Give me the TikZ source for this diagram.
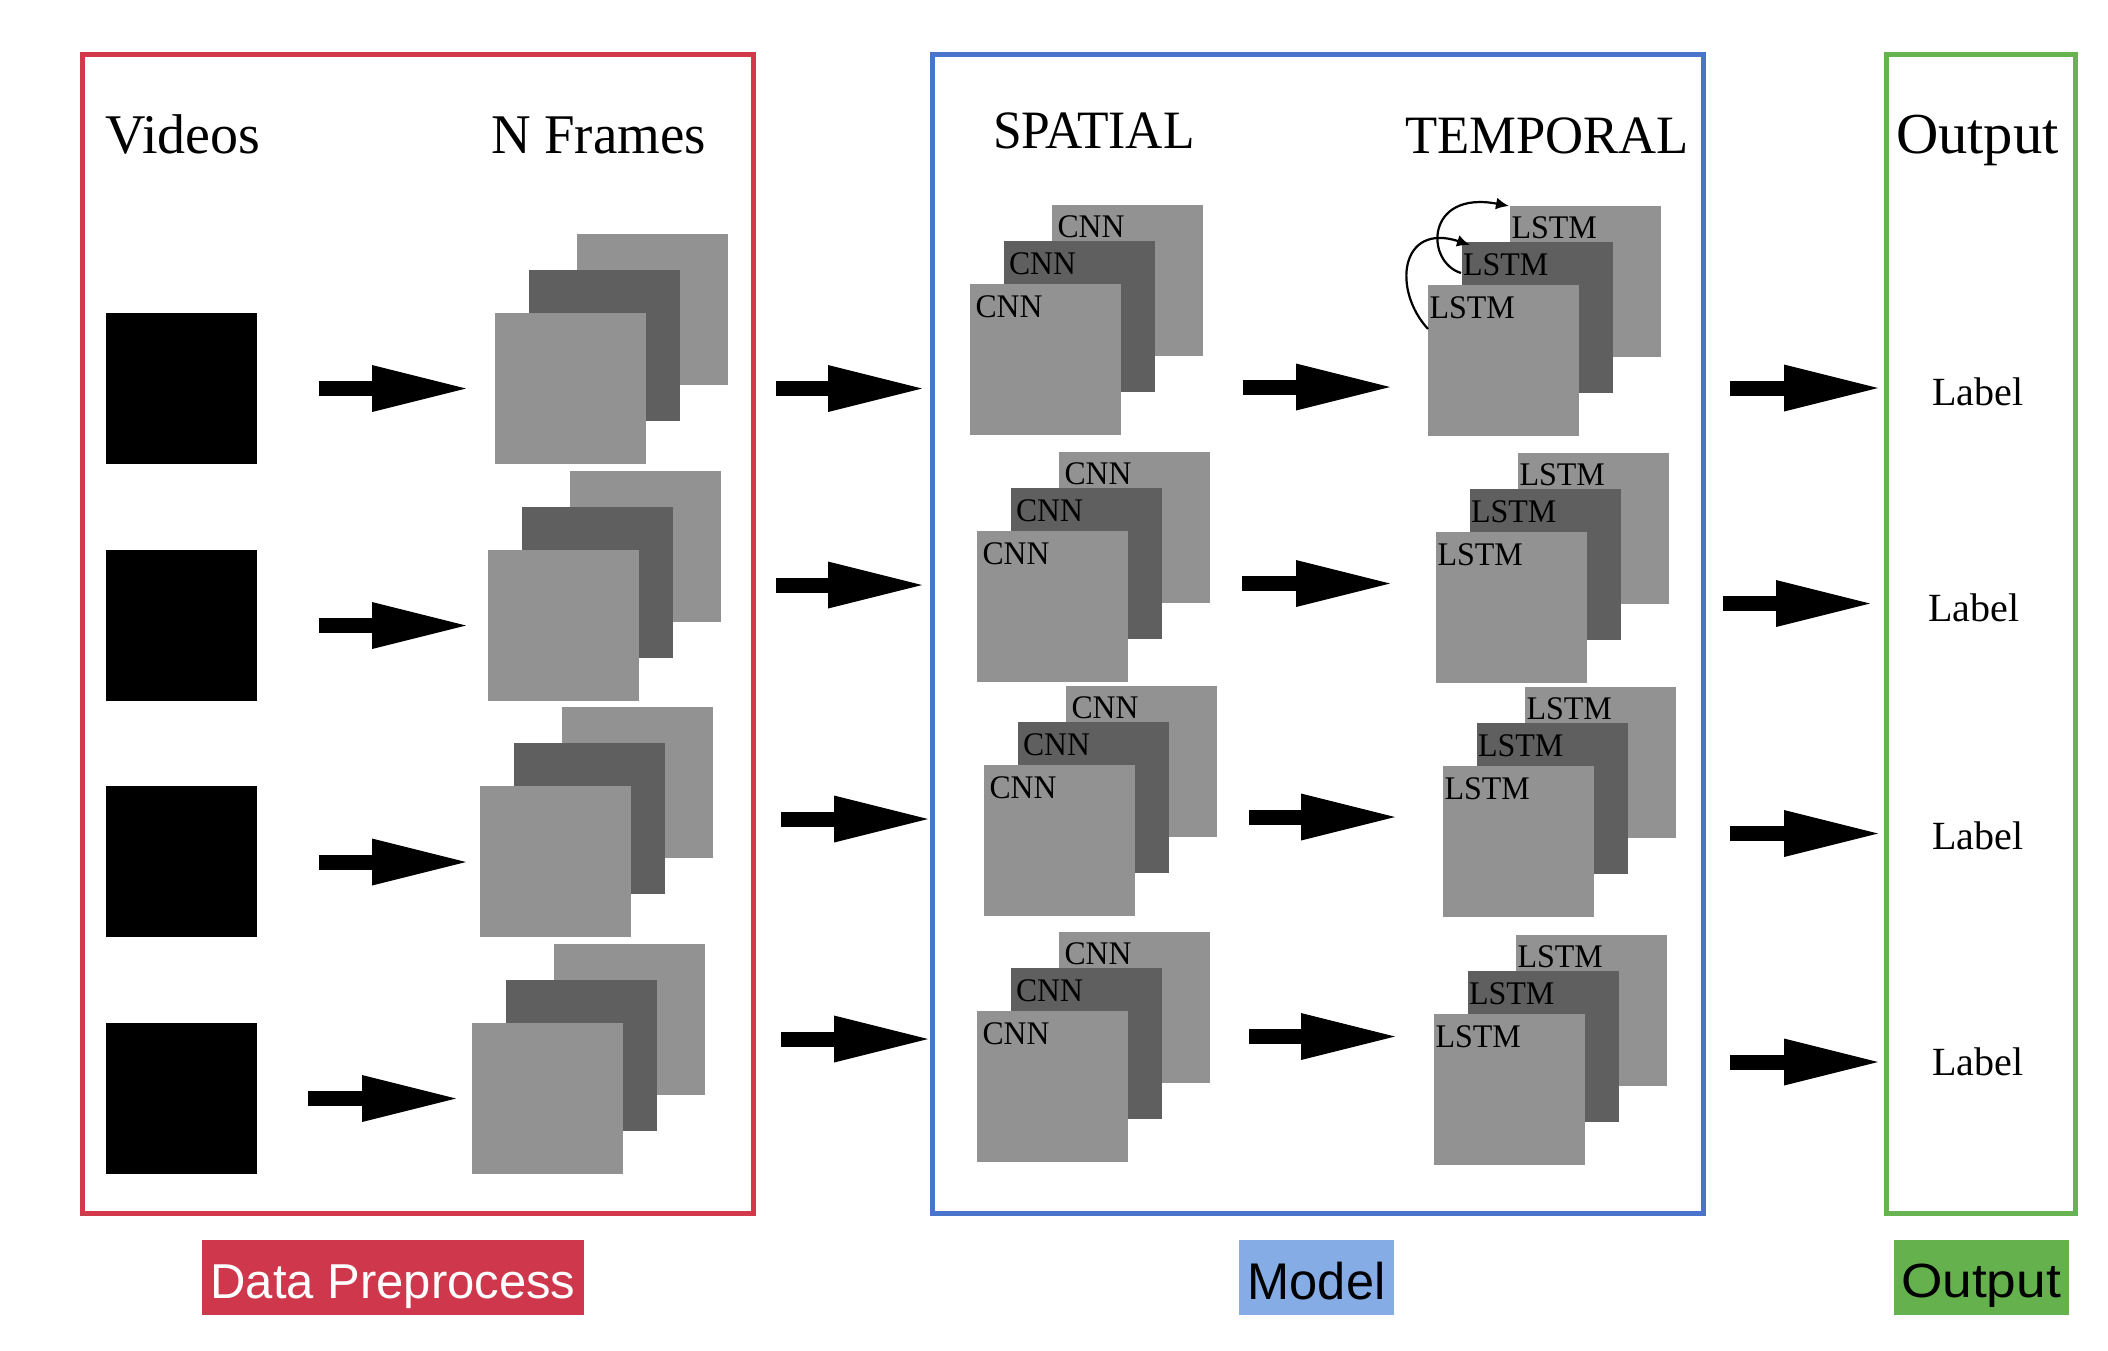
\documentclass[tikz,border=0pt]{standalone}
\usepackage{fontspec}
\setmainfont{Liberation Serif}
\newfontfamily\lsans{Liberation Sans}
\usetikzlibrary{arrows.meta}
\definecolor{cred}{HTML}{D23A4C}
\definecolor{cblue}{HTML}{4A74CC}
\definecolor{cgreen}{HTML}{66B34F}
\definecolor{fred}{HTML}{CF384C}
\definecolor{fblue}{HTML}{86ACE6}
\definecolor{fgreen}{HTML}{64B14D}
\definecolor{gl}{HTML}{929292}
\definecolor{gd}{HTML}{5F5F5F}
\newcommand\sx[2]{\scalebox{#1}[1]{#2}}
\tikzset{
  sq/.style={rectangle, minimum width=75.5pt, minimum height=75.5pt, inner sep=0pt, outer sep=0pt, anchor=north west, draw=none},
  blk/.style={line width=7.5pt, -{Triangle[length=47pt,width=23.5pt,line width=0pt]}},
  loopar/.style={line width=1.1pt, -{Latex[length=6.5pt,width=6pt]}},
  frame/.style={line width=2.5pt, line join=miter},
  lab/.style={inner sep=0pt, outer sep=0pt, anchor=base west},
  hdr/.style={inner sep=0pt, outer sep=0pt, anchor=base west, font=\fontsize{28pt}{30pt}\selectfont},
  small/.style={inner sep=0pt, outer sep=0pt, anchor=base west, font=\fontsize{16.5pt}{18pt}\selectfont},
  tag/.style={rectangle, inner sep=0pt, outer sep=0pt, minimum height=37.5pt},
  tagtxt/.style={inner sep=0pt, outer sep=0pt, anchor=base, font=\lsans\fontsize{24.5pt}{26pt}\selectfont},
  lbl/.style={inner sep=0pt, outer sep=0pt, anchor=base, font=\fontsize{20pt}{22pt}\selectfont},
}
% #1 name, #2 x, #3 y, #4 text, #5 inset, #6 xscale
\newcommand\mystack[6]{%
  \node[sq, fill=gl] (#1b) at ({#2+82},{#3-79}) {};
  \node[small] (#1bt) at ({#2+82+#5},{#3-79+32}) {\sx{#6}{#4}};
  \node[sq, fill=gd] (#1m) at ({#2+33.5},{#3-43}) {};
  \node[small] (#1mt) at ({#2+33.5+#5},{#3-43+33}) {\sx{#6}{#4}};
  \node[sq, fill=gl] (#1f) at (#2,#3) {};
  \node[small] (#1ft) at ({#2+#5},{#3+33}) {\sx{#6}{#4}};
}
\newcommand\myframes[3]{%
  \node[sq, fill=gl] (#1b) at ({#2+82},{#3-79}) {};
  \node[sq, fill=gd] (#1m) at ({#2+33.5},{#3-43}) {};
  \node[sq, fill=gl] (#1f) at (#2,#3) {};
}
\newcommand\myarrow[4]{% name, x start, y, x tip
  \coordinate (#1s) at (#2,#3);
  \coordinate (#1e) at (#4,#3);
  \draw[blk] (#1s) -- (#1e);
}
\begin{document}
\begin{tikzpicture}[x=0.5pt,y=-0.5pt]
\useasboundingbox[fill=white] (0,0) rectangle (2108,1350);

% container frames
\draw[frame, draw=cred] (82,54.5) rectangle (753,1213.5);
\draw[frame, draw=cblue] (932,54.5) rectangle (1703.5,1213.5);
\draw[frame, draw=cgreen] (1886,54.5) rectangle (2075.5,1213.5);

% headers
\node[hdr] (hvid) at (105,153) {\sx{1.0}{Videos}};
\node[hdr] (hfr) at (491,153) {\sx{0.98}{N Frames}};
\node[hdr, font=\fontsize{27pt}{29pt}\selectfont] (hsp) at (993,148.5) {\sx{0.955}{SPATIAL}};
\node[hdr, font=\fontsize{27pt}{29pt}\selectfont] (htp) at (1405,153) {\sx{0.975}{TEMPORAL}};
\node[hdr, font=\fontsize{29pt}{31pt}\selectfont] (hout) at (1896,153) {\sx{1.01}{Output}};

% videos
\node[sq, fill=black] (v1) at (106,313) {};
\node[sq, fill=black] (v2) at (106,550) {};
\node[sq, fill=black] (v3) at (106,786) {};
\node[sq, fill=black] (v4) at (106,1023) {};

% frames
\myframes{fa}{495}{313}
\myframes{fb}{488}{550}
\myframes{fc}{480}{786}
\myframes{fd}{472}{1023}

% CNN stacks
\mystack{ca}{970}{284}{CNN}{5.5}{0.96}
\mystack{cb}{977}{531}{CNN}{5.5}{0.96}
\mystack{cc}{984}{765}{CNN}{5.5}{0.96}
\mystack{cd}{977}{1011}{CNN}{5.5}{0.96}

% LSTM stacks
\mystack{la}{1428}{285}{LSTM}{1.5}{0.97}
\mystack{lb}{1436}{532}{LSTM}{1.5}{0.97}
\mystack{lc}{1443}{766}{LSTM}{1.5}{0.97}
\mystack{ld}{1434}{1014}{LSTM}{1.5}{0.97}

% recurrent loops
\coordinate (r1s) at (1428,329);
\coordinate (r1e) at (1470,245);
\draw[loopar] (r1s) .. controls (1392,290) and (1400,222) .. (r1e);
\coordinate (r2s) at (1461,273);
\coordinate (r2e) at (1509,206);
\draw[loopar] (r2s) .. controls (1425,262) and (1425,190) .. (r2e);

% arrows videos -> frames
\myarrow{a1}{319}{388.5}{466}
\myarrow{a2}{319}{625.5}{466}
\myarrow{a3}{319}{862}{466}
\myarrow{a4}{308}{1098.5}{456}

% arrows preprocess -> model
\myarrow{b1}{776}{388.5}{922}
\myarrow{b2}{776}{585}{922}
\myarrow{b3}{781}{819}{928}
\myarrow{b4}{781}{1039}{928}

% arrows CNN -> LSTM
\myarrow{c1}{1243}{387}{1390}
\myarrow{c2}{1242}{583.5}{1390}
\myarrow{c3}{1249}{817}{1395}
\myarrow{c4}{1249}{1036.5}{1395}

% arrows model -> output
\myarrow{d1}{1730}{388}{1878}
\myarrow{d2}{1723}{603.5}{1870}
\myarrow{d3}{1730}{833.5}{1878}
\myarrow{d4}{1730}{1062}{1878}

% labels
\node[lbl] (l1) at (1978,405) {Label};
\node[lbl] (l2) at (1974,621) {Label};
\node[lbl] (l3) at (1978,849.5) {Label};
\node[lbl] (l4) at (1978,1075.5) {Label};

% bottom tags
\node[tag, fill=fred, minimum width=191pt] (tdp) at (393,1277.5) {};
\node[tagtxt, text=white] (tdpt) at (393,1298) {\sx{1.0}{Data Preprocess}};
\node[tag, fill=fblue, minimum width=77.5pt] (tmo) at (1316.5,1277.5) {};
\node[tagtxt, font=\lsans\fontsize{25.8pt}{27pt}\selectfont] (tmot) at (1316.5,1299) {\sx{0.98}{Model}};
\node[tag, fill=fgreen, minimum width=87.5pt] (tou) at (1981.5,1277.5) {};
\node[tagtxt, font=\lsans\fontsize{24pt}{26pt}\selectfont] (tout) at (1981,1297) {\sx{1.11}{Output}};
\end{tikzpicture}
\end{document}
